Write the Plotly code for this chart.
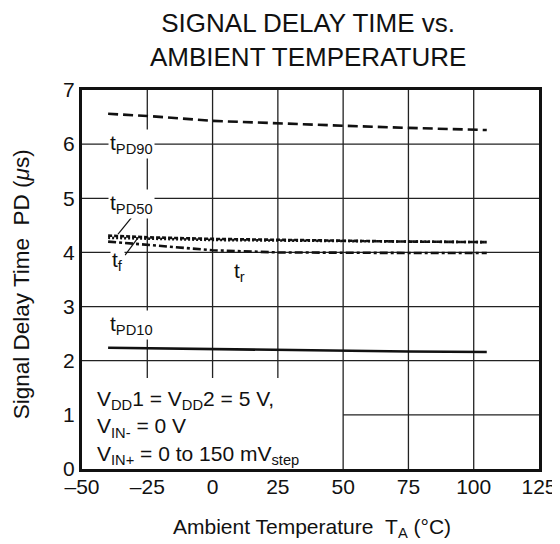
import plotly.graph_objects as go

# ---- data ----
temp = [-40, -25, 0, 25, 50, 75, 105]
t_pd90 = [6.56, 6.52, 6.43, 6.38, 6.34, 6.30, 6.26]
t_pd50 = [4.31, 4.28, 4.25, 4.23, 4.21, 4.20, 4.19]
t_f = [4.27, 4.25, 4.23, 4.22, 4.21, 4.20, 4.19]
t_r = [4.20, 4.14, 4.04, 4.00, 3.99, 3.99, 3.99]
t_pd10 = [2.24, 2.23, 2.21, 2.20, 2.18, 2.17, 2.16]

x_tickvals = [-50, -25, 0, 25, 50, 75, 100, 125]
x_ticktext = ["–50", "–25", "0", "25", "50", "75", "100", "125"]
y_tickvals = [0, 1, 2, 3, 4, 5, 6, 7]

FONT = "Liberation Sans, Arial, sans-serif"
BLACK = "#111111"

fig = go.Figure()

def add_line(y, dash, width=2.6):
    fig.add_trace(go.Scatter(x=temp, y=y, mode="lines",
                             line=dict(color=BLACK, width=width, dash=dash),
                             showlegend=False, hoverinfo="skip"))

add_line(t_pd90, "10px,5px")
add_line(t_pd50, "4px,2px")
add_line(t_f, "2px,2px")
add_line(t_r, "8px,3px,3px,3px")
add_line(t_pd10, "solid")

# ---- grid (drawn as segments because part of it is blanked by the note box) ----
grid_col = "#222222"
shapes = []
for xv in [-25, 0, 25]:
    shapes.append(dict(type="line", xref="x", yref="y", x0=xv, x1=xv, y0=1.68, y1=7,
                       line=dict(color=grid_col, width=1.3), layer="below"))
for xv in [50, 75, 100]:
    shapes.append(dict(type="line", xref="x", yref="y", x0=xv, x1=xv, y0=0, y1=7,
                       line=dict(color=grid_col, width=1.3), layer="below"))
for yv in [2, 3, 4, 5, 6]:
    shapes.append(dict(type="line", xref="x", yref="y", x0=-50, x1=125, y0=yv, y1=yv,
                       line=dict(color=grid_col, width=1.3), layer="below"))
shapes.append(dict(type="line", xref="x", yref="y", x0=50, x1=125, y0=1, y1=1,
                   line=dict(color=grid_col, width=1.3), layer="below"))

# leader lines for labels
leaders = [((-30.9, 4.65), (-36.2, 4.34)), ((-33.5, 3.95), (-28.6, 4.27))]
for (xa, ya), (xb, yb) in leaders:
    shapes.append(dict(type="line", xref="x", yref="y", x0=xa, y0=ya, x1=xb, y1=yb,
                       line=dict(color=BLACK, width=1.2)))

lab_font = dict(family=FONT, size=21, color=BLACK)
annotations = []
curve_labels = [
    ("t<sub>PD90</sub>", -31, 6.0),
    ("t<sub>PD50</sub>", -31, 4.9),
    ("t<sub>f</sub>", -36.5, 3.84),
    ("t<sub>r</sub>", 10.5, 3.64),
    ("t<sub>PD10</sub>", -31, 2.66),
]
for txt, xv, yv in curve_labels:
    annotations.append(dict(text=txt, x=xv, y=yv, xref="x", yref="y", showarrow=False,
                            font=lab_font, bgcolor="white", borderpad=1,
                            xanchor="center", yanchor="middle"))

annotations.append(dict(
    text="V<sub>DD</sub>1 = V<sub>DD</sub>2 = 5 V,<br>V<sub>IN-</sub> = 0 V<br>V<sub>IN+</sub> = 0 to 150 mV<sub>step</sub>",
    x=-45.2, y=0.76, xref="x", yref="y", showarrow=False, align="left",
    xanchor="left", yanchor="middle", font=lab_font))

# axis titles
annotations.append(dict(text="Ambient Temperature\u00a0\u00a0T<sub>A</sub> (°C)", x=0.503, y=-0.156,
                        xref="paper", yref="paper", showarrow=False,
                        xanchor="center", yanchor="middle", font=lab_font))
annotations.append(dict(text="Signal Delay Time\u00a0\u00a0PD (<i>μ</i>s)", x=-0.133, y=0.488,
                        xref="paper", yref="paper", showarrow=False, textangle=-90,
                        xanchor="center", yanchor="middle",
                        font=dict(family=FONT, size=22.5, color=BLACK)))

fig.update_layout(
    width=560, height=544,
    margin=dict(l=74, r=29, t=82, b=83),
    paper_bgcolor="white", plot_bgcolor="white",
    title=dict(text="SIGNAL DELAY TIME vs.<br>AMBIENT TEMPERATURE",
               x=0.536, xanchor="center", y=0.955, yanchor="middle",
               font=dict(family=FONT, size=26, color=BLACK)),
    shapes=shapes, annotations=annotations,
    showlegend=False,
)
fig.update_xaxes(range=[-50, 125], tickvals=x_tickvals, ticktext=x_ticktext,
                 showgrid=False, zeroline=False, showline=True, mirror=True,
                 linecolor=BLACK, linewidth=3, ticks="", ticklabelstandoff=-3,
                 tickfont=dict(family=FONT, size=21, color=BLACK))
fig.update_yaxes(range=[0, 7], tickvals=y_tickvals,
                 showgrid=False, zeroline=False, showline=True, mirror=True,
                 linecolor=BLACK, linewidth=3, ticks="",
                 tickfont=dict(family=FONT, size=21, color=BLACK))

fig.write_html("out.html")
